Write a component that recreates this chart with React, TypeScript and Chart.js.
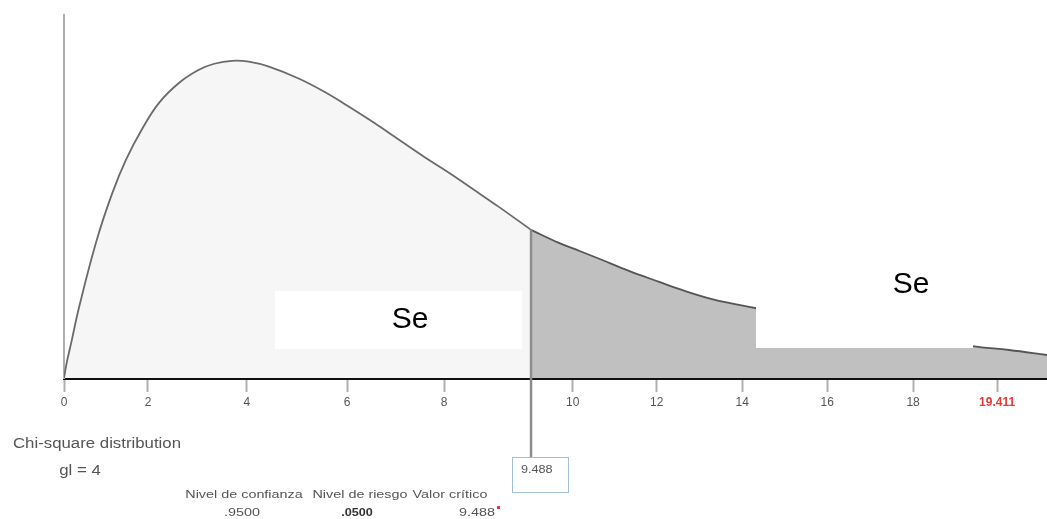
import React, { useEffect, useRef } from "react";
import { Chart, registerables } from "chart.js";

Chart.register(...registerables);

// Curve (x in axis units, y = density height)
const curveX = [0, 0.06, 0.15, 0.31, 0.67, 1.0, 1.29, 1.63, 1.98, 2.4, 2.81, 3.13, 3.5, 3.85, 4.27, 4.9, 5.46, 5.94, 6.46, 6.98, 7.5, 8.02, 8.54, 9.06, 9.73, 10.31, 10.73, 11.15, 11.77, 12.4, 12.81, 13.5, 14.4, 15.31, 16.35, 17.4, 18.92, 19.69, 20.48];
const curveY = [0, 0.0093, 0.0203, 0.0405, 0.0787, 0.1065, 0.1262, 0.1442, 0.1592, 0.1708, 0.1783, 0.1818, 0.1835, 0.183, 0.1801, 0.1731, 0.165, 0.1569, 0.1476, 0.1378, 0.128, 0.1187, 0.1089, 0.099, 0.0857, 0.0782, 0.0736, 0.069, 0.062, 0.0556, 0.0515, 0.0457, 0.0405, 0.0359, 0.0307, 0.0255, 0.0185, 0.0162, 0.0133];

// Tick labels and where they sit on the axis
const xTickLabels = ["0", "2", "4", "6", "8", "10", "12", "14", "16", "18", "19.411"];
const xTickAt = [0, 1.75, 3.81, 5.9, 7.92, 10.6, 12.35, 14.13, 15.9, 17.69, 19.44];

const critPos = 9.73;
const critLabel = "9.488";
const gl = 4;
const confLevel = ".9500";
const riskLevel = ".0500";

const X_MAX = 20.48;
const Y_MAX = 0.21;

function txt(ctx: CanvasRenderingContext2D, s: string, x: number, y: number, size: number, color: string, align: CanvasTextAlign, weight = "normal", sx = 1.25) {
  ctx.save();
  ctx.translate(x, y);
  ctx.scale(sx, 1);
  ctx.font = `${weight} ${size}px "Liberation Sans", Arial, sans-serif`;
  ctx.fillStyle = color;
  ctx.textAlign = align;
  ctx.textBaseline = "middle";
  ctx.fillText(s, 0, 0);
  ctx.restore();
}

export default function App() {
  const ref = useRef<HTMLCanvasElement | null>(null);

  useEffect(() => {
    const canvas = ref.current;
    if (!canvas) return;
    const pts = curveX.map((x, i) => ({ x, y: curveY[i] }));
    const left = pts.filter((p) => p.x <= critPos);
    const right = pts.filter((p) => p.x >= critPos);
    const critY = curveY[curveX.indexOf(critPos)];

    const overlay = {
      id: "overlay",
      afterDraw(chart: any) {
        const ctx: CanvasRenderingContext2D = chart.ctx;
        const xs = chart.scales.x;
        const ys = chart.scales.y;
        const cx = xs.getPixelForValue(critPos);
        const cy = ys.getPixelForValue(critY);
        // critical line
        ctx.save();
        ctx.strokeStyle = "#8c8c8c";
        ctx.lineWidth = 2.5;
        ctx.beginPath();
        ctx.moveTo(cx, cy);
        ctx.lineTo(cx, 457);
        ctx.stroke();
        // value box
        ctx.fillStyle = "#ffffff";
        ctx.fillRect(512, 457, 56, 35);
        ctx.strokeStyle = "#9ec0dd";
        ctx.lineWidth = 1;
        ctx.strokeRect(512.5, 457.5, 56, 35);
        ctx.restore();
        txt(ctx, critLabel, 521, 470, 11.5, "#555", "left", "normal", 1.1);

        // white label boxes
        ctx.save();
        ctx.fillStyle = "#ffffff";
        ctx.fillRect(275, 291, 247, 58);
        ctx.fillRect(756, 250, 217, 98);
        ctx.restore();
        txt(ctx, "Se", 410, 320, 30, "#000", "center", "normal", 1);
        txt(ctx, "Se", 911, 285, 30, "#000", "center", "normal", 1);

        // captions
        txt(ctx, "Chi-square distribution", 97, 444, 14, "#555", "center", "normal", 1.2);
        txt(ctx, `gl = ${gl}`, 80, 471, 14, "#555", "center", "normal", 1.2);
        txt(ctx, "Nivel de confianza", 244, 495, 11.5, "#555", "center");
        txt(ctx, confLevel, 242, 513, 11.5, "#555", "center");
        txt(ctx, "Nivel de riesgo", 360, 495, 11.5, "#555", "center");
        txt(ctx, riskLevel, 357, 513, 11.5, "#333", "center", "bold", 1.1);
        txt(ctx, "Valor crítico", 450, 495, 11.5, "#555", "center");
        txt(ctx, critLabel, 495, 513, 11.5, "#555", "right");
        ctx.save();
        ctx.fillStyle = "#e53935";
        ctx.fillRect(497, 506, 3, 3);
        ctx.restore();
      },
    };

    const chart = new Chart(canvas, {
      type: "line",
      data: {
        datasets: [
          {
            data: left,
            borderColor: "#6a6a6a",
            borderWidth: 1.8,
            backgroundColor: "#f6f6f6",
            fill: "origin",
            pointRadius: 0,
            tension: 0.4,
          },
          {
            data: right,
            borderColor: "#555555",
            borderWidth: 1.8,
            backgroundColor: "#c0c0c0",
            fill: "origin",
            pointRadius: 0,
            tension: 0.4,
          },
        ],
      },
      options: {
        animation: false,
        responsive: false,
        parsing: false as any,
        layout: { padding: { top: 15, right: 0, left: 0, bottom: 0 } },
        plugins: { legend: { display: false }, tooltip: { enabled: false } },
        scales: {
          x: {
            type: "linear",
            min: 0,
            max: X_MAX,
            z: 1,
            afterFit: (s: any) => {
              s.height = 141;
            },
            afterBuildTicks: (s: any) => {
              s.ticks = xTickAt.map((v) => ({ value: v }));
            },
            border: { display: true, color: "#111", width: 3 },
            grid: {
              display: true,
              drawOnChartArea: false,
              drawTicks: true,
              tickLength: 14,
              tickWidth: 2,
              tickColor: "#b0b0b0",
            },
            ticks: {
              autoSkip: false,
              maxRotation: 0,
              padding: 3,
              callback: (_v: any, i: number) => xTickLabels[i],
              color: (c: any) => (c.index === xTickLabels.length - 1 ? "#e53935" : "#555"),
              font: (c: any) => ({
                size: 12,
                family: '"Liberation Sans", Arial, sans-serif',
                weight: c.index === xTickLabels.length - 1 ? "bold" : "normal",
              }),
            },
          },
          y: {
            type: "linear",
            min: 0,
            max: Y_MAX,
            afterFit: (s: any) => {
              s.width = 64;
            },
            border: { display: true, color: "#b0b0b0", width: 2 },
            grid: { display: false },
            ticks: { display: false },
          },
        },
      },
      plugins: [overlay],
    });
    return () => chart.destroy();
  }, []);

  return (
    <div style={{ position: "fixed", left: 0, top: 0, width: 1047, height: 519, background: "#fff" }}>
      <canvas ref={ref} width={1047} height={519} style={{ width: 1047, height: 519, display: "block" }} />
    </div>
  );
}
